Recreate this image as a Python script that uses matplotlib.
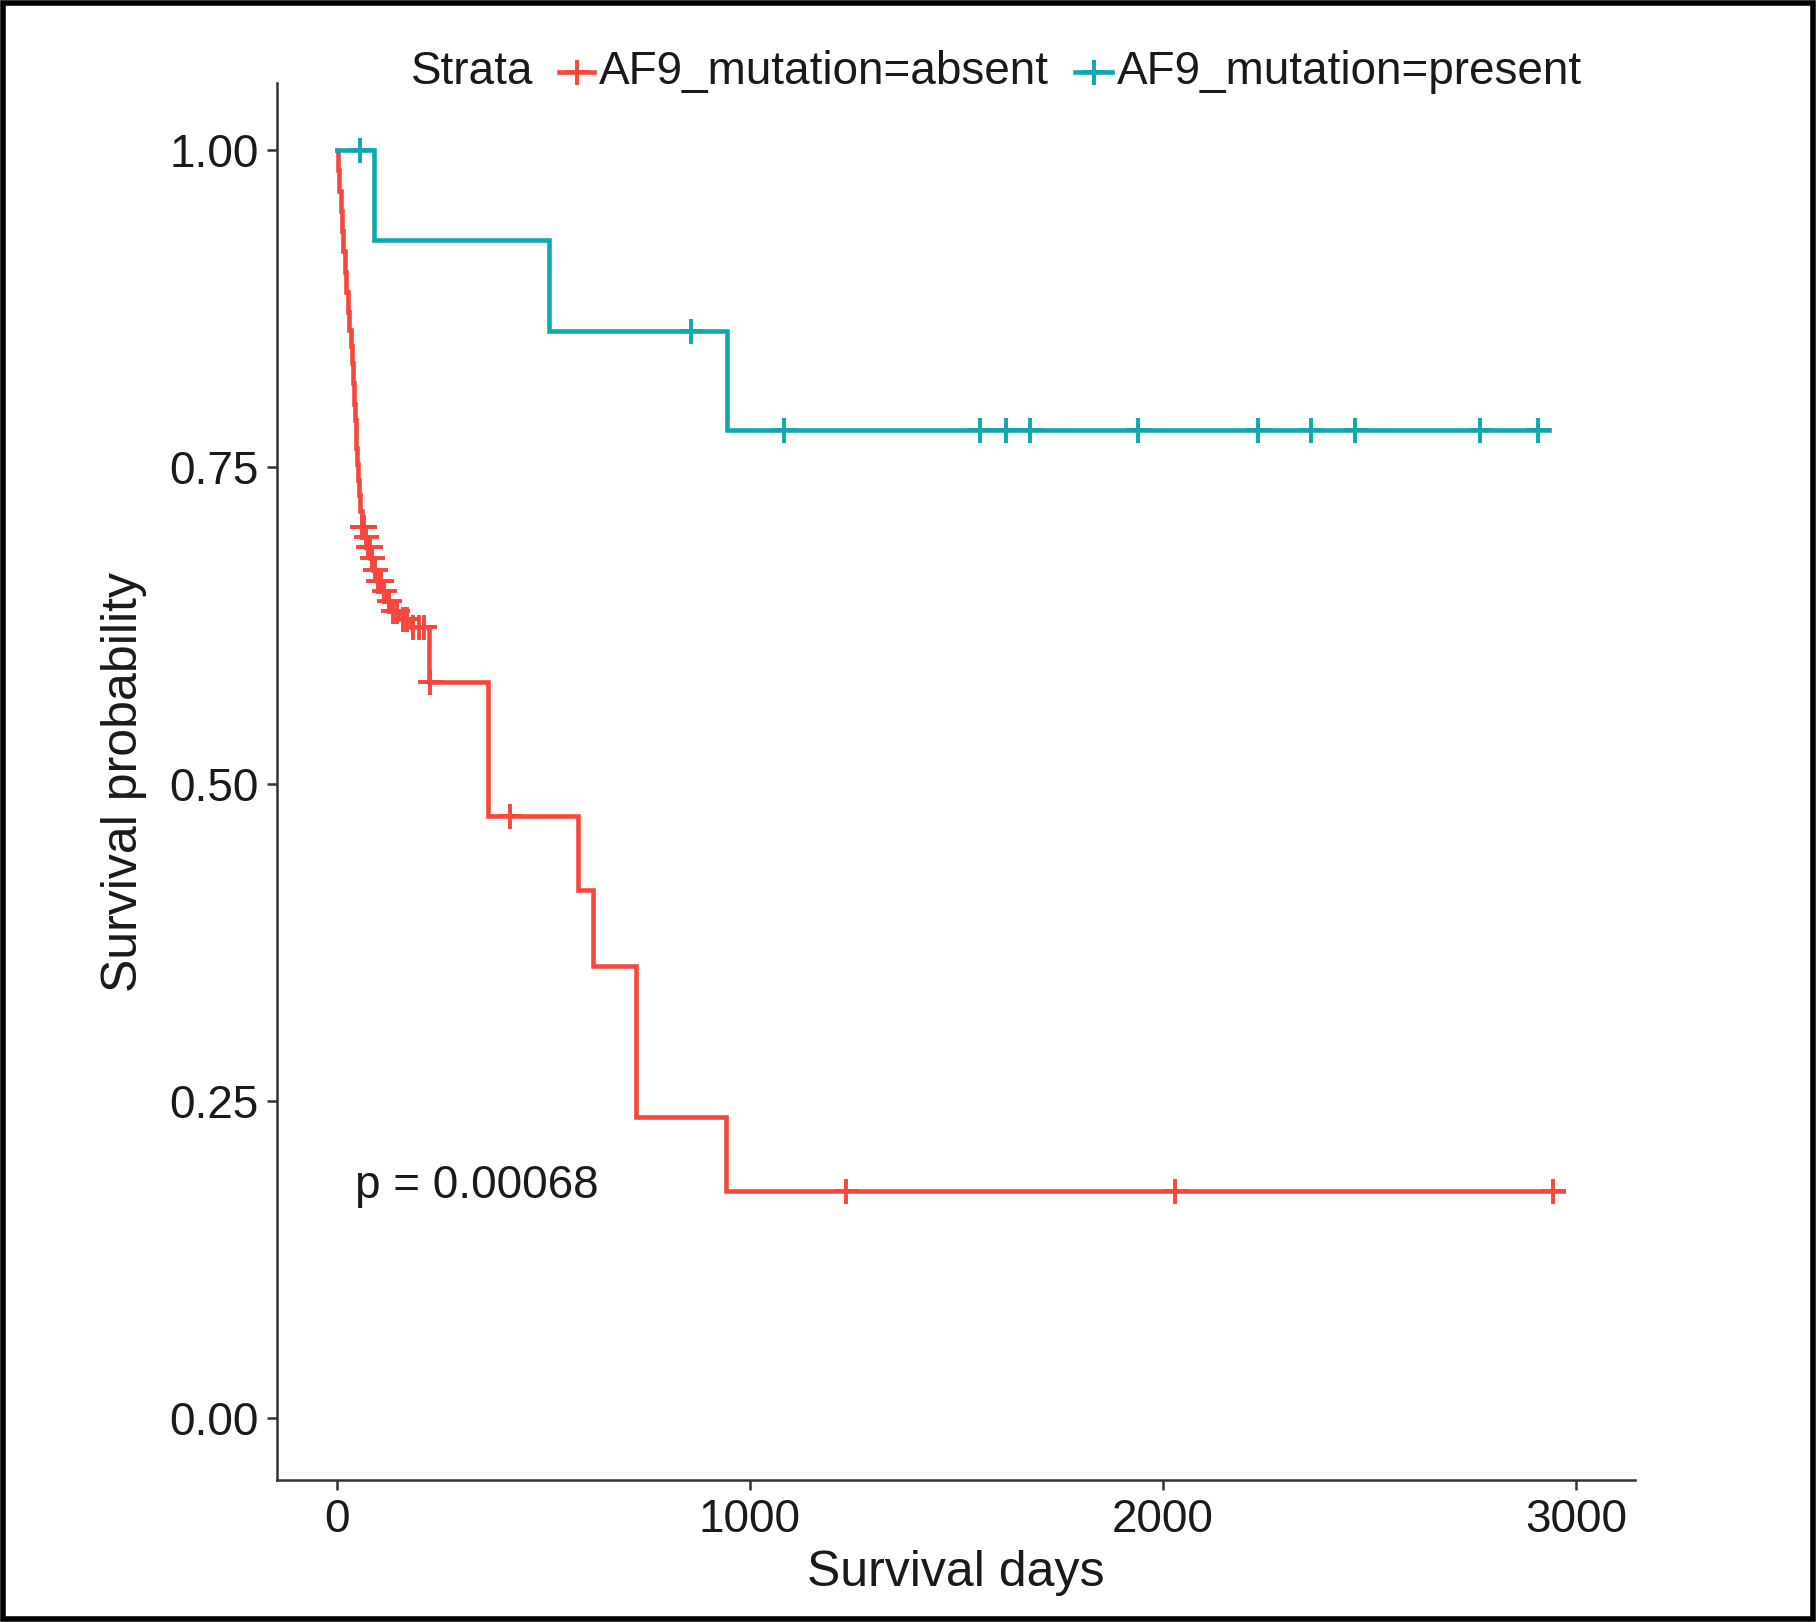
import numpy as np
import matplotlib
matplotlib.use("Agg")
import matplotlib.pyplot as plt
from matplotlib.lines import Line2D
from matplotlib.patches import Rectangle

plt.rcParams['font.family'] = ['Liberation Sans', 'DejaVu Sans']

# ---- data ----
absent_time = [0, 2, 5, 9, 13, 16, 19, 22, 26, 29, 33, 36, 39, 41, 43, 46, 49, 51, 54, 57, 60,
               66, 72, 80, 88, 98, 108, 118, 130, 150, 180, 222, 365, 583, 619, 725, 942]
absent_surv = [1.0, 0.984, 0.968, 0.952, 0.936, 0.920, 0.904, 0.888, 0.872, 0.858, 0.845, 0.832,
               0.816, 0.800, 0.787, 0.765, 0.752, 0.740, 0.728, 0.715, 0.703,
               0.695, 0.687, 0.678, 0.669, 0.660, 0.652, 0.644, 0.636, 0.630, 0.624,
               0.580, 0.475, 0.416, 0.356, 0.237, 0.179]
absent_censor = [62, 65, 70, 75, 79, 85, 92, 100, 106, 115, 125, 135, 145, 160, 170, 185, 200,
                 212, 226, 420, 1233, 2029, 2945]
absent_end = 2968

present_time = [0, 90, 513, 944]
present_surv = [1.0, 0.929, 0.857, 0.779]
present_censor = [56, 857, 1082, 1556, 1620, 1677, 1939, 2231, 2359, 2466, 2768, 2909]
present_end = 2934

labels = ["AF9_mutation=absent", "AF9_mutation=present"]
colors = ["#F5473D", "#10A8B0"]
p_text = "p = 0.00068"
x_ticks = [0, 1000, 2000, 3000]
y_ticks = [0.00, 0.25, 0.50, 0.75, 1.00]

W, H = 1816, 1622
fig = plt.figure(figsize=(W / 100, H / 100), dpi=100)
ax = fig.add_axes([277 / W, 1 - 1480 / H, (1635 - 277) / W, (1480 - 83) / H])


def step_value(times, survs, t):
    idx = np.searchsorted(times, t, side='right') - 1
    return np.asarray(survs)[idx]


LW = 3.3
MS = 18
MEW = 2.8

series = [
    (absent_time, absent_surv, absent_censor, absent_end),
    (present_time, present_surv, present_censor, present_end),
]
for (tt, ss, cc, end), col in zip(series, colors):
    xs = list(tt) + [end]
    ys = list(ss) + [ss[-1]]
    ax.plot(xs, ys, drawstyle='steps-post', color=col, lw=LW, solid_joinstyle='miter', zorder=3)
    cy = step_value(np.array(tt), ss, np.array(cc))
    ax.plot(cc, cy, linestyle='none', marker='+', markersize=MS, markeredgewidth=MEW,
            color=col, zorder=4)

ax.set_xlim(-145, 3143)
ax.set_ylim(-0.049, 1.0528)
ax.set_xticks(x_ticks)
ax.set_xticklabels([str(v) for v in x_ticks])
ax.set_yticks(y_ticks)
ax.set_yticklabels([f"{v:.2f}" for v in y_ticks])

for s in ['top', 'right']:
    ax.spines[s].set_visible(False)
for s in ['left', 'bottom']:
    ax.spines[s].set_color('#333333')
    ax.spines[s].set_linewidth(1.8)
ax.tick_params(axis='both', colors='#333333', length=7, width=1.8, labelsize=33,
               labelcolor='#1a1a1a', pad=6)

ax.set_xlabel("Survival days", fontsize=36, color='#1a1a1a', labelpad=6)
ax.set_ylabel("Survival probability", fontsize=36, color='#1a1a1a', labelpad=16)

ax.text(45, 0.183, p_text, fontsize=33, color='#1a1a1a', ha='left', va='center')

# legend (top, horizontal)
ly = 1 - 72 / H
fig.text(411 / W, ly, "Strata", fontsize=33, color='#1a1a1a', ha='left', va='center')
leg_pos = [(559, 594, 599), (1075, 1112, 1117)]
for (x0, x1, xt), col, lab in zip(leg_pos, colors, labels):
    fig.add_artist(Line2D([x0 / W, x1 / W], [ly, ly], color=col, lw=LW))
    fig.add_artist(Line2D([(x0 + x1) / 2 / W], [ly], marker='+', markersize=MS,
                          markeredgewidth=MEW, color=col, linestyle='none'))
    fig.text(xt / W, ly, lab, fontsize=33, color='#1a1a1a', ha='left', va='center')

# outer black frame
fig.add_artist(Rectangle((0.0015, 0.0017), 0.997, 0.9966, transform=fig.transFigure,
                         fill=False, edgecolor='black', linewidth=4))

fig.savefig("out.png", dpi=100, facecolor='white')
